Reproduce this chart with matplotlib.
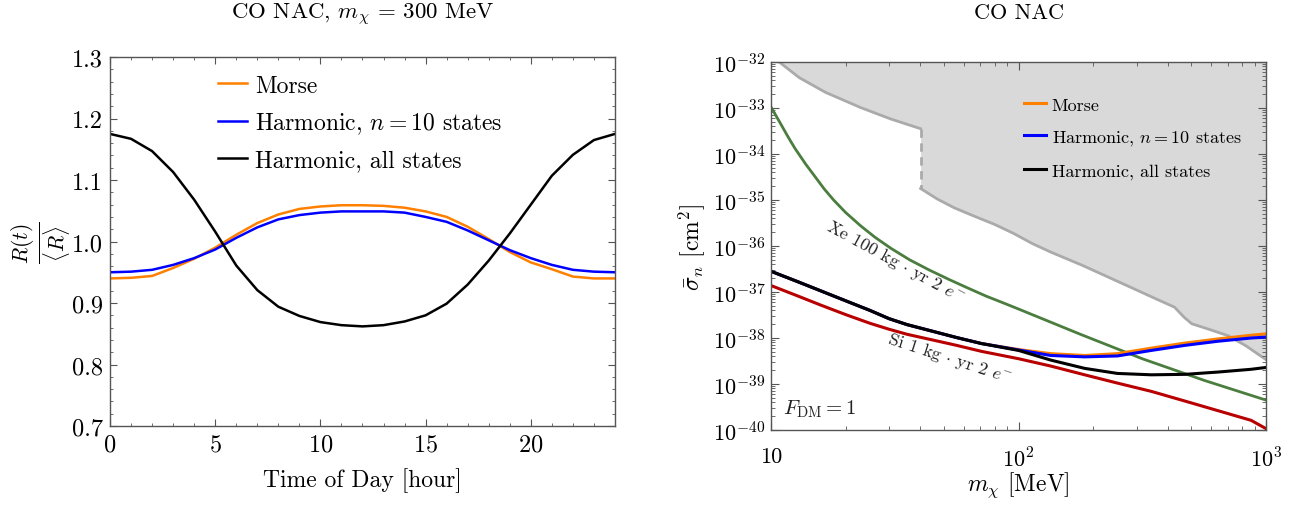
import numpy as np
import matplotlib
matplotlib.use("Agg")
import matplotlib.pyplot as plt
from matplotlib.ticker import (MultipleLocator, LogLocator, FixedLocator, FixedFormatter,
                               NullFormatter, FormatStrFormatter)

plt.rcParams['font.family'] = 'serif'
plt.rcParams['font.serif'] = ['cmr10']
plt.rcParams['mathtext.fontset'] = 'cm'
plt.rcParams['axes.formatter.use_mathtext'] = True
plt.rcParams['axes.unicode_minus'] = True

# ---- left panel: daily modulation, CO NAC, m_chi = 300 MeV
hours = np.arange(0, 25)
morse = [0.940, 0.941, 0.944, 0.957, 0.972, 0.990, 1.011, 1.030, 1.044, 1.053,
         1.057, 1.059, 1.059, 1.058, 1.055, 1.049, 1.040, 1.024, 1.004, 0.983,
         0.966, 0.955, 0.943, 0.940, 0.940]
harm10 = [0.950, 0.951, 0.954, 0.962, 0.973, 0.987, 1.006, 1.023, 1.036, 1.043,
          1.047, 1.049, 1.049, 1.049, 1.047, 1.040, 1.032, 1.018, 1.002, 0.986,
          0.973, 0.962, 0.954, 0.951, 0.950]
harm_all = [1.175, 1.167, 1.147, 1.113, 1.068, 1.016, 0.961, 0.921, 0.894, 0.879,
            0.869, 0.864, 0.862, 0.864, 0.870, 0.880, 0.899, 0.930, 0.969, 1.013,
            1.060, 1.107, 1.141, 1.165, 1.175]

# ---- right panel: reach, log10 of cross section [cm^2] vs m_chi [MeV]
m_grid = [10, 12.6, 15.8, 20, 25.1, 30, 35.5, 44.7, 56.2, 70.8, 100, 135, 185, 251, 344, 470,
          640, 871, 1000]
morse_lim = [-36.55, -36.76, -36.97, -37.19, -37.40, -37.58, -37.71, -37.85, -37.99, -38.12,
             -38.25, -38.34, -38.38, -38.34, -38.22, -38.11, -38.02, -37.94, -37.91]
harm10_lim = [-36.55, -36.76, -36.97, -37.19, -37.40, -37.58, -37.71, -37.85, -37.99, -38.12,
              -38.26, -38.38, -38.41, -38.39, -38.27, -38.16, -38.07, -38.00, -37.98]
harmall_lim = [-36.55, -36.76, -36.97, -37.19, -37.40, -37.58, -37.71, -37.85, -37.99, -38.12,
               -38.27, -38.48, -38.66, -38.77, -38.80, -38.79, -38.74, -38.68, -38.64]
si_lim = [-36.86, -37.07, -37.28, -37.49, -37.68, -37.81, -37.92, -38.04, -38.16, -38.29,
          -38.45, -38.61, -38.80, -38.98, -39.16, -39.37, -39.58, -39.79, -39.97]

xe_m = [10, 10.9, 11.75, 12.5, 13.8, 15, 16.4, 17.9, 20, 23, 26.3, 30.5, 36.3, 43.5, 52.5,
        62.2, 74, 89, 100, 178, 316, 562, 1000]
xe_lim = [-32.98, -33.33, -33.64, -33.88, -34.22, -34.48, -34.76, -35.0, -35.27, -35.56,
          -35.81, -36.05, -36.30, -36.52, -36.73, -36.91, -37.09, -37.26, -37.37, -37.92,
          -38.45, -38.92, -39.35]

# existing constraint (shaded), with a jump at ~40 MeV
bound_m_hi = [10.5, 13.0, 16.6, 23, 30.5, 40.2]
bound_hi = [-31.95, -32.34, -32.66, -32.99, -33.24, -33.45]
bound_m_lo = [40.2, 47, 55, 66.8, 80, 95, 114, 136, 181, 259, 370, 427, 467, 501, 588, 703,
              830, 1000]
bound_lo = [-34.75, -34.98, -35.17, -35.36, -35.53, -35.72, -35.95, -36.14, -36.42, -36.80,
            -37.18, -37.33, -37.55, -37.69, -37.81, -37.95, -38.17, -38.47]

c_orange = '#ff8000'
c_blue = '#0000ff'
c_green = '#4a7d3e'
c_red = '#b80000'
c_frame = '#555555'

fig = plt.figure(figsize=(13.16, 5.06), dpi=100)
ax1 = fig.add_axes([0.0836, 0.1561, 0.3837, 0.7292])
ax2 = fig.add_axes([0.5859, 0.1482, 0.3761, 0.7273])

for ax in (ax1, ax2):
    for s in ax.spines.values():
        s.set_color(c_frame)
        s.set_linewidth(1.0)
    ax.tick_params(which='both', direction='in', top=True, right=True, colors=c_frame,
                   labelcolor='black')

# left
ax1.plot(hours, morse, color=c_orange, lw=1.8, label='Morse')
ax1.plot(hours, harm10, color=c_blue, lw=1.8, label=r'Harmonic, $n=10$ states')
ax1.plot(hours, harm_all, color='black', lw=1.8, label='Harmonic, all states')
ax1.set_xlim(0, 24)
ax1.set_ylim(0.7, 1.3)
ax1.xaxis.set_major_locator(MultipleLocator(5))
ax1.xaxis.set_minor_locator(MultipleLocator(1))
ax1.yaxis.set_major_locator(MultipleLocator(0.1))
ax1.yaxis.set_minor_locator(MultipleLocator(0.02))
ax1.yaxis.set_major_formatter(FormatStrFormatter('%.1f'))
ax1.tick_params(which='major', length=5, labelsize=17.5, pad=5)
ax1.tick_params(which='minor', length=2.5)
ax1.set_xlabel('Time of Day [hour]', fontsize=17, labelpad=9)
ax1.set_ylabel(r'$\frac{R(t)}{\langle R\rangle}$', fontsize=22, labelpad=-1)
ax1.set_title(r'CO NAC, $m_\chi$ = 300 MeV', fontsize=16.5, pad=28)
ax1.legend(loc='upper left', bbox_to_anchor=(0.213, 0.953), frameon=False, fontsize=17,
           handlelength=1.25, handletextpad=0.35, labelspacing=0.58, borderpad=0, borderaxespad=0)

# right
ax2.fill_between(bound_m_hi + bound_m_lo, 10.0 ** np.array(bound_hi + bound_lo), 1e-32,
                 color='#d9d9d9', lw=0, zorder=0)
ax2.plot(bound_m_hi, 10.0 ** np.array(bound_hi), color='#aaaaaa', lw=2, zorder=1)
ax2.plot(bound_m_lo, 10.0 ** np.array(bound_lo), color='#aaaaaa', lw=2, zorder=1)
ax2.plot([bound_m_hi[-1], bound_m_lo[0]], [10.0 ** bound_hi[-1], 10.0 ** bound_lo[0]],
         color='#aaaaaa', lw=2, ls=(0, (3, 2)), zorder=1)
ax2.plot(xe_m, 10.0 ** np.array(xe_lim), color=c_green, lw=2)
ax2.plot(m_grid, 10.0 ** np.array(si_lim), color=c_red, lw=2.2)
ax2.plot(m_grid, 10.0 ** np.array(morse_lim), color=c_orange, lw=2.2, label='Morse')
ax2.plot(m_grid, 10.0 ** np.array(harm10_lim), color=c_blue, lw=2.2,
         label=r'Harmonic, $n=10$ states')
ax2.plot(m_grid, 10.0 ** np.array(harmall_lim), color='black', lw=2.2,
         label='Harmonic, all states')
ax2.set_xscale('log')
ax2.set_yscale('log')
ax2.set_xlim(10, 1000)
ax2.set_ylim(1e-40, 1e-32)
ax2.xaxis.set_major_locator(FixedLocator([10, 100, 1000]))
ax2.xaxis.set_major_formatter(FixedFormatter(['10', r'$10^2$', r'$10^3$']))
ax2.xaxis.set_minor_locator(LogLocator(base=10, subs=np.arange(2, 10), numticks=20))
ax2.xaxis.set_minor_formatter(NullFormatter())
ax2.yaxis.set_major_locator(LogLocator(base=10, numticks=20))
ax2.yaxis.set_minor_locator(LogLocator(base=10, subs=np.arange(2, 10), numticks=20))
ax2.yaxis.set_minor_formatter(NullFormatter())
ax2.tick_params(which='major', length=6, labelsize=16, pad=4)
ax2.tick_params(axis='x', which='major', pad=12)
ax2.tick_params(which='minor', length=3)
ax2.set_xlabel(r'$m_\chi$ [MeV]', fontsize=17, labelpad=-1)
ax2.set_ylabel(r'$\bar{\sigma}_n$ [cm$^2$]', fontsize=17, labelpad=4)
ax2.set_title('CO NAC', fontsize=16, pad=32)
ax2.legend(loc='upper left', bbox_to_anchor=(0.512, 0.905), frameon=False, fontsize=13,
           handlelength=1.2, handletextpad=0.3, labelspacing=0.87, borderpad=0, borderaxespad=0)

ax2.text(31.9, 10 ** -36.32, r'Xe 100 kg $\cdot$ yr 2 $e^{-}$', fontsize=13, rotation=-28.5,
         ha='center', va='center', color='#222222')
ax2.text(52.5, 10 ** -38.43, r'Si 1 kg $\cdot$ yr 2 $e^{-}$', fontsize=13, rotation=-18,
         ha='center', va='center', color='#222222')
ax2.text(0.024, 0.06, r'$F_{\rm DM} = 1$', transform=ax2.transAxes, fontsize=15,
         ha='left', va='center', color='#222222')

fig.savefig('out.png', dpi=100)
